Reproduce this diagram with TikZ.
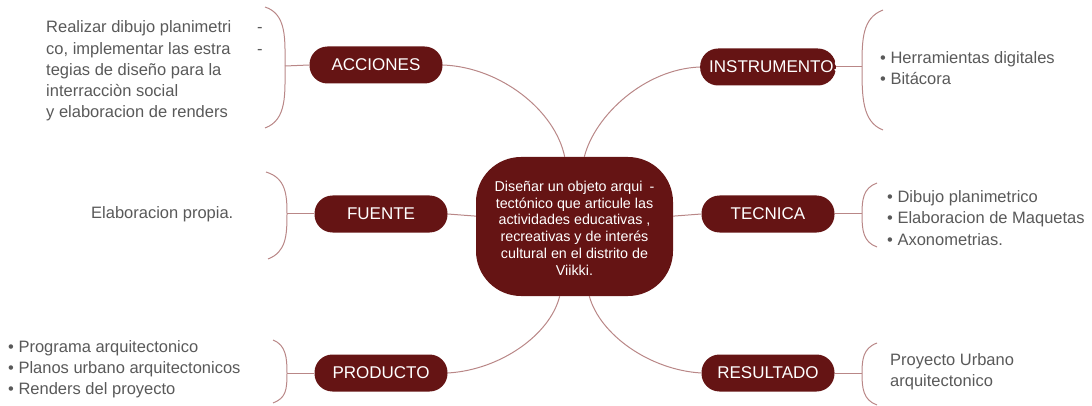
\documentclass[tikz,border=0pt]{standalone}
\usepackage{fontspec}
\setmainfont{Liberation Sans}
\definecolor{nodered}{RGB}{101,20,20}
\definecolor{linec}{RGB}{185,135,135}
\definecolor{txt}{RGB}{89,89,89}
\begin{document}
\begin{tikzpicture}[x=1pt,y=-1pt,
  branch/.style={fill=nodered, rounded corners=18pt, minimum width=133pt, minimum height=37pt, text=white, font=\fontsize{17}{19}\selectfont, inner sep=0pt},
  conn/.style={draw=linec, line width=1pt},
  info/.style={text=txt, font=\fontsize{16.5}{21.2}\selectfont, align=left, inner sep=0pt, anchor=west}]
\useasboundingbox (0,0) rectangle (1092,406);

% central node
\node[fill=nodered, rounded corners=45pt, minimum width=197pt, minimum height=139pt, text=white, font=\fontsize{14.3}{16.7}\selectfont, inner sep=0pt] (c) at (574.5,226.5)
  {\raisebox{-3.5pt}[\height][\depth]{\begin{tabular}{@{}c@{}}\makebox[155pt][l]{Diseñar un objeto arqui}-\\ tectónico que articule las\\ actividades educativas ,\\ recreativas y de interés\\ cultural en el distrito de\\ Viikki.\end{tabular}}};

% branch nodes
\node[branch] (acc) at (376,65) {ACCIONES};
\node[branch] (ins) at (768,67) {\hspace*{9pt}INSTRUMENTOS\hspace*{-9pt}};
\node[branch] (fue) at (381,214) {FUENTE};
\node[branch] (tec) at (768,214) {TECNICA};
\node[branch] (pro) at (381,373) {PRODUCTO};
\node[branch] (res) at (768,373) {RESULTADO};

% text nodes
\node[info] (tacc) at (46,71) {\makebox[211pt][l]{Realizar dibujo planimetri}-\\ \makebox[211pt][l]{co, implementar las estra}-\\ tegias de diseño para la\\ interracciòn social\\ y elaboracion de renders};
\node[info] (tins) at (880,68.5) {• Herramientas digitales\\ • Bitácora};
\node[info] (tfue) at (91,214) {Elaboracion propia.};
\node[info] (ttec) at (887,218) {• Dibujo planimetrico\\ • Elaboracion de Maquetas\\ • Axonometrias.};
\node[info] (tpro) at (8,369) {• Programa arquitectonico\\ • Planos urbano arquitectonicos\\ • Renders del proyecto};
\node[info] (tres) at (890,371.5) {Proyecto Urbano\\ arquitectonico};

% brace midpoints
\coordinate (bA) at (285,66);
\coordinate (bF) at (287,214);
\coordinate (bP) at (287,373);
\coordinate (bI) at (862,67);
\coordinate (bT) at (862,214);
\coordinate (bR) at (862,373);

% braces
\draw[conn] (265,7) .. controls (287,14) and (285,40) .. (bA) .. controls (285,94) and (287,120) .. (265,128);
\draw[conn] (266,172) .. controls (286,178) and (287,195) .. (bF) .. controls (287,236) and (286,252) .. (268,259);
\draw[conn] (273,340) .. controls (286,345) and (287,358) .. (bP) .. controls (287,390) and (286,398) .. (273,403);
\draw[conn] (883,10) .. controls (862,18) and (862,40) .. (bI) .. controls (862,96) and (862,122) .. (883,130);
\draw[conn] (877,183) .. controls (863,188) and (862,200) .. (bT) .. controls (862,230) and (863,242) .. (877,247);
\draw[conn] (877,343) .. controls (863,348) and (862,360) .. (bR) .. controls (862,388) and (863,400) .. (877,405);

% ticks
\draw[conn] (bA) -- (acc.west);
\draw[conn] (bF) -- (fue.west);
\draw[conn] (bP) -- (pro.west);
\draw[conn] (bI) -- (ins.east);
\draw[conn] (bT) -- (tec.east);
\draw[conn] (bR) -- (res.east);

% connectors to center
\draw[conn] (acc.east) .. controls (500,67) and (555,110) .. (c.98);
\draw[conn] (ins.west) .. controls (645,69) and (595,115) .. (c.82);
\draw[conn] (fue.east) -- (c.174);
\draw[conn] (tec.west) -- (c.6);
\draw[conn] (pro.east) .. controls (500,370) and (550,335) .. (c.258);
\draw[conn] (res.west) .. controls (650,370) and (600,335) .. (c.282);
\end{tikzpicture}
\end{document}
